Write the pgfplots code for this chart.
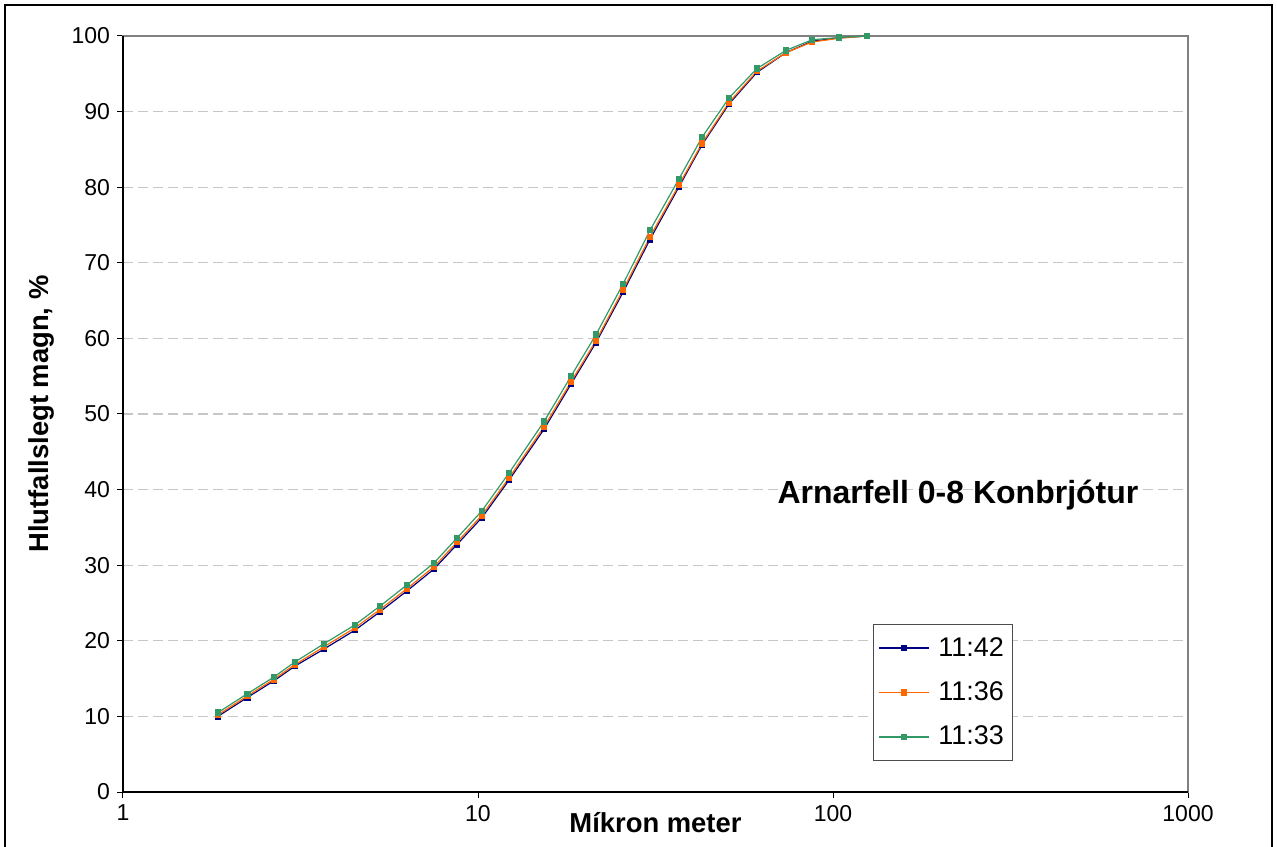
\documentclass[border=0pt]{standalone}
\usepackage{pgfplots}
\pgfplotsset{compat=1.18}
\usepackage{pgfplotstable}
\usepackage{fontspec}
\setmainfont{Liberation Sans}
\definecolor{sA}{RGB}{0,0,128}
\definecolor{sB}{RGB}{255,102,0}
\definecolor{sC}{RGB}{51,153,102}
\pgfplotstableread{
x      b      o      g
1.85   10.0   10.2   10.5
2.24   12.5   12.7   13.0
2.66   14.7   14.9   15.2
3.05   16.65  16.85  17.2
3.68   18.9   19.2   19.6
4.50   21.4   21.7   22.1
5.30   23.85  24.15  24.6
6.31   26.6   26.9   27.4
7.52   29.5   29.8   30.3
8.73   32.75  33.05  33.6
10.26  36.3   36.6   37.2
12.23  41.25  41.55  42.2
15.35  48.0   48.3   49.0
18.28  53.95  54.25  55.0
21.50  59.45  59.7   60.5
25.62  66.1   66.4   67.2
30.52  73.1   73.45  74.3
36.83  80.05  80.3   81.1
42.76  85.6   85.8   86.6
50.93  91.0   91.2   91.8
61.08  95.2   95.35  95.7
73.73  97.8   97.8   98.1
87.28  99.3   99.2   99.5
103.9  99.75  99.7   99.8
124.7  100    100    100
}\data
\begin{document}
\begin{tikzpicture}
\useasboundingbox (-61.5pt,-27pt) rectangle (577pt,396pt);
\draw[line width=1.2pt] (-59pt,-30pt) -- (-59pt,393.5pt) -- (574.5pt,393.5pt) -- (574.5pt,-30pt);
\begin{axis}[
  at={(0pt,0pt)}, anchor=south west,
  scale only axis, width=532.5pt, height=378pt,
  xmode=log, xmin=1, xmax=1000, ymin=0, ymax=100,
  xtick={1,10,100,1000}, xticklabels={1,10,100,1000},
  xminorticks=false,
  ytick={0,10,...,100},
  ymajorgrids,
  major grid style={draw=black!22, dash pattern=on 5pt off 2.5pt, line width=0.6pt},
  axis line style={draw=black!50, line width=0.7pt},
  tick style={black, line width=0.5pt},
  tick align=outside, major tick length=3pt, tick pos=left,
  tick label style={font=\fontsize{11.5}{13.5}\selectfont},
  /pgf/number format/assume math mode=true,
  xlabel={Míkron meter}, ylabel={Hlutfallslegt magn, \%},
  label style={font=\bfseries\fontsize{13.7}{16}\selectfont},
  xlabel style={at={(axis description cs:0.5,-0.0529)}, anchor=base},
  ylabel style={at={(axis description cs:-0.0761,0.5)}, anchor=center},
  clip=false,
  legend style={at={(0.704,0.222)}, anchor=north west, draw=black!70, fill=white,
    font=\fontsize{13.5}{15}\selectfont, inner xsep=2.5pt, inner ysep=4.8pt,
    nodes={inner sep=1.5pt}, row sep=8.3pt,
    /tikz/every even column/.append style={column sep=0pt},
    /tikz/every odd column/.append style={column sep=3pt}},
  legend cell align=left,
  legend image code/.code={\draw[mark repeat=2,mark phase=2] plot coordinates {(1pt,0pt)(13.5pt,0pt)(26pt,0pt)};},
]
\addplot[sA, line width=0.6pt, mark=square*, mark size=1.3pt, mark options={solid,fill=sA,draw=sA}] table[x=x,y=b] {\data};
\addlegendentry{11:42}
\addplot[sB, line width=0.6pt, mark=square*, mark size=1.3pt, mark options={solid,fill=sB,draw=sB}] table[x=x,y=o] {\data};
\addlegendentry{11:36}
\addplot[sC, line width=0.6pt, mark=square*, mark size=1.3pt, mark options={solid,fill=sC,draw=sC}] table[x=x,y=g] {\data};
\addlegendentry{11:33}
\draw[black, line width=0.7pt] (rel axis cs:0,1) -- (rel axis cs:0,0) -- (rel axis cs:1,0);
\node[font=\bfseries\fontsize{16}{19}\selectfont] at (rel axis cs:0.784,0.393) {Arnarfell 0-8 Konbrjótur};
\end{axis}
\end{tikzpicture}
\end{document}
